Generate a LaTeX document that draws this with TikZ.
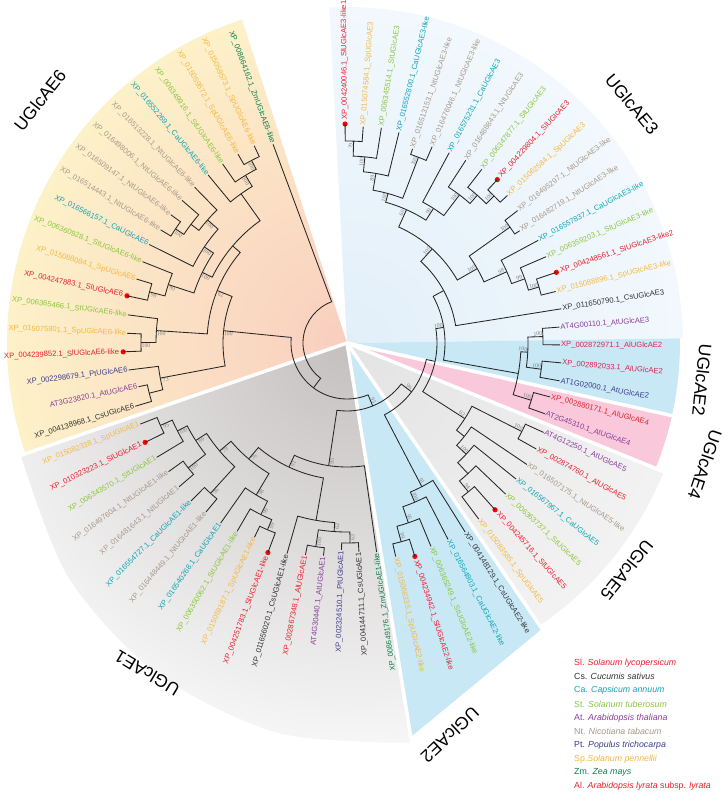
\documentclass[tikz,border=0pt]{standalone}
\usepackage{fontspec}
\setmainfont{Liberation Sans}
\newfontfamily\bsfont{Liberation Serif}
\definecolor{cSl}{HTML}{E8202E}
\definecolor{cCs}{HTML}{333333}
\definecolor{cCa}{HTML}{10A5B5}
\definecolor{cSt}{HTML}{8CC63F}
\definecolor{cAt}{HTML}{8B3D9B}
\definecolor{cNt}{HTML}{A8998A}
\definecolor{cPt}{HTML}{3F3C8C}
\definecolor{cSp}{HTML}{F5B843}
\definecolor{cZm}{HTML}{0E7E4E}
\definecolor{cAl}{HTML}{DC2450}
\definecolor{bgA}{HTML}{E2EFF9}
\definecolor{bgB}{HTML}{F3F9FD}
\definecolor{bgTwo}{HTML}{C8E8F6}
\definecolor{bgFour}{HTML}{F9C8DA}
\definecolor{bgFiveA}{HTML}{E3E3E3}
\definecolor{bgFiveB}{HTML}{F3F3F3}
\definecolor{bgOneA}{HTML}{C4C0BF}
\definecolor{bgOneB}{HTML}{FAFAFA}
\definecolor{bgSixA}{HTML}{F9CEBF}
\definecolor{bgSixB}{HTML}{FDF3C9}
\tikzset{
 br/.style={line width=0.85pt, black!85},
 leaf/.style={font=\fontsize{7.6}{9}\selectfont, inner sep=0pt},
 bsn/.style={font=\bsfont\fontsize{5.8}{6}\selectfont, text=gray, inner sep=0.6pt},
 reddot/.style={fill=red},
 clade/.style={font=\fontsize{17.5}{20}\selectfont, inner sep=0pt},
 leg/.style={font=\fontsize{8.8}{10}\selectfont, anchor=west, inner sep=0pt},
 gapline/.style={white, line width=3.5pt},
}
\newcommand\Lf[5]{%
  \pgfmathsetmacro\lfA{90.5-(#1-1)*4.79}%
  \coordinate (L#1) at (\lfA:#2pt);%
  \expandafter\xdef\csname tAL#1\endcsname{\lfA}%
  \expandafter\xdef\csname tRL#1\endcsname{#2}%
  \ifnum#5=1 \fill[reddot] (L#1) circle (2.6pt);\pgfmathsetmacro\lfR{#2+4}\else\pgfmathsetmacro\lfR{#2+1}\fi
  \ifdim\lfA pt<-80pt
    \node[leaf,text=#3,anchor=east,rotate=\lfA+180] (T#1) at (\lfA:\lfR pt) {#4};%
  \else
    \node[leaf,text=#3,anchor=west,rotate=\lfA] (T#1) at (\lfA:\lfR pt) {#4};%
  \fi}
\newcommand\Ed[2]{%
  \edef\edCA{\csname tA#1\endcsname}\edef\edPR{\csname tR#2\endcsname}\edef\edPA{\csname tA#2\endcsname}%
  \draw[br] (#1) -- (\edCA:\edPR pt) arc[start angle=\edCA, end angle=\edPA, radius=\edPR pt];}
\newcommand\Bs[2]{%
  \if\relax\detokenize{#2}\relax\else
  \edef\bsA{\csname tA#1\endcsname}\edef\bsR{\csname tR#1\endcsname}%
  \pgfmathsetmacro\bsL{\bsR-5}%
  \ifdim\bsA pt<-80pt
    \node[bsn,anchor=north,rotate=\bsA+180] (bs#1) at (\bsA:\bsL pt) {#2};
  \else
    \node[bsn,anchor=south,rotate=\bsA] (bs#1) at (\bsA:\bsL pt) {#2};
  \fi\fi}
\newcommand\Jn[5]{%
  \pgfmathsetmacro\jnA{(\csname tA#2\endcsname+\csname tA#3\endcsname)/2}%
  \coordinate (#1) at (\jnA:#4pt);%
  \expandafter\xdef\csname tA#1\endcsname{\jnA}%
  \expandafter\xdef\csname tR#1\endcsname{#4}%
  \Ed{#2}{#1}\Ed{#3}{#1}\Bs{#1}{#5}}
\newcommand\Sector[6]{% name, start, end, radius, inner, outer
  \begin{scope}
  \clip (0,0) -- (#2:#4pt) arc[start angle=#2,end angle=#3,radius=#4pt] -- cycle;
  \shade[inner color=#5, outer color=#6] (0,0) circle (1.05*#4pt);
  \end{scope}}
\begin{document}
\begin{tikzpicture}
\useasboundingbox (-347pt,-458pt) rectangle (381pt,343pt);
\fill[white] (-347pt,-458pt) rectangle (381pt,343pt);
% sectors
\Sector{s3}{93}{0.8}{336}{bgA}{bgB}
\Sector{s2a}{0.8}{-12.6}{333}{bgTwo}{bgTwo}
\Sector{s4}{-12.6}{-22.1}{333}{bgFour}{bgFour}
\Sector{s5}{-22.1}{-55.7}{342}{bgFiveA}{bgFiveB}
\fill[bgTwo] (0,0) -- (-55.7:346pt) -- (-81.5:402pt) -- cycle;
\begin{scope}
 \clip (0,0) -- plot[smooth] coordinates {(-80.8:405pt) (-100:396pt) (-120:381pt) (-140:364pt) (-161:345pt)} -- cycle;
 \shade[inner color=bgOneA, outer color=bgOneB] (0,0) circle (430pt);
\end{scope}
\Sector{s6}{-161}{-252}{340}{bgSixA}{bgSixB}
\foreach \g in {-12.6,-22.1,-55.7,-80.8,-161}{\draw[gapline] (0,0) -- (\g:440pt);}
% leaves
\Lf{1}{219}{cSl}{XP\_004240046.1\_SlUGlcAE3-like1}{1}
\Lf{2}{217}{cSp}{XP\_015074584.1\_SpUGlcAE3}{0}
\Lf{3}{218}{cSt}{XP\_006345514.1\_StUGlcAE3}{0}
\Lf{4}{217}{cCa}{XP\_016552800.1\_CaUGlcAE3-like}{0}
\Lf{5}{205}{cNt}{XP\_016513153.1\_NtUGlcAE3-like}{0}
\Lf{6}{214}{cNt}{XP\_016476046.1\_NtUGlcAE3-like}{0}
\Lf{7}{216}{cCa}{XP\_016575231.1\_CaUGlcAE3}{0}
\Lf{8}{218}{cNt}{XP\_016488843.1\_NtUGlcAE3}{0}
\Lf{9}{220}{cSt}{XP\_006347877.1\_StUGlcAE3}{0}
\Lf{10}{222}{cSl}{XP\_004229804.1\_SlUGlcAE3}{1}
\Lf{11}{218}{cSp}{XP\_015062584.1\_SpUGlcAE3}{0}
\Lf{12}{216}{cNt}{XP\_016495297.1\_NtUGlcAE3-like}{0}
\Lf{13}{206}{cNt}{XP\_016482719.1\_NtUGlcAE3-like}{0}
\Lf{14}{217}{cCa}{XP\_016557837.1\_CaUGlcAE3-like}{0}
\Lf{15}{217}{cSt}{XP\_006359203.1\_StUGlcAE3-like}{0}
\Lf{16}{221}{cSl}{XP\_004248561.1\_SlUGlcAE3-like2}{1}
\Lf{17}{215}{cSp}{XP\_015088896.1\_SpUGlcAE3-like}{0}
\Lf{18}{217}{cCs}{XP\_011650790.1\_CsUGlcAE3}{0}
\Lf{19}{213}{cAt}{AT4G00110.1\_AtUGlcAE3}{0}
\Lf{20}{213}{cAl}{XP\_002872971.1\_AlUGlcAE2}{0}
\Lf{21}{215}{cAl}{XP\_002892033.1\_AlUGlcAE2}{0}
\Lf{22}{216}{cPt}{AT1G02000.1\_AtUGlcAE2}{0}
\Lf{23}{210}{cSl}{XP\_002880171.1\_AlUGlcAE4}{0}
\Lf{24}{210}{cAt}{AT2G45310.1\_AtUGlcAE4}{0}
\Lf{25}{216}{cAt}{AT4G12250.1\_AtUGlcAE5}{0}
\Lf{26}{217}{cSl}{XP\_002874760.1\_AlUGlcAE5}{0}
\Lf{27}{217}{cNt}{XP\_016507175.1\_NtUGlcAE5-like}{0}
\Lf{28}{217}{cCa}{XP\_016567967.1\_CaUGlcAE5}{0}
\Lf{29}{219}{cSt}{XP\_006363737.1\_StUGlcAE5}{0}
\Lf{30}{223}{cSl}{XP\_004245716.1\_SlUGlcAE5}{1}
\Lf{31}{220}{cSp}{XP\_015083585.1\_SpUGlcAE5}{0}
\Lf{32}{223}{cCs}{XP\_004148129.1\_CsUGlcAE2-like}{0}
\Lf{33}{221}{cCa}{XP\_016564803.1\_CaUGlcAE2-like}{0}
\Lf{34}{220}{cSt}{XP\_006365249.1\_StUGlcAE2-like}{0}
\Lf{35}{224}{cSl}{XP\_004234942.1\_SlUGlcAE2-like}{1}
\Lf{36}{219}{cSp}{XP\_015068335.1\_SpUGlcAE2-like}{0}
\Lf{37}{211}{cZm}{XP\_008649176.1\_ZmUGlcAE1-like}{0}
\Lf{38}{209}{cCs}{XP\_004144711.1\_CsUGlcAE1}{0}
\Lf{39}{207}{cPt}{XP\_002324510.1\_PtUGlcAE1}{0}
\Lf{40}{214}{cAt}{AT4G30440.1\_AtUGlcAE1}{0}
\Lf{41}{216}{cSl}{XP\_002867348.1\_AlUGlcAE1}{0}
\Lf{42}{219}{cCs}{XP\_011656020.1\_CsUGlcAE1-like}{0}
\Lf{43}{224}{cSl}{XP\_004251783.1\_SlUGlcAE1-like}{1}
\Lf{44}{215}{cSp}{XP\_015059187.1\_SpUGlcAE1-like}{0}
\Lf{45}{218}{cSt}{XP\_006350062.1\_StUGlcAE1-like}{0}
\Lf{46}{220}{cCa}{XP\_016540268.1\_CaUGlcAE1}{0}
\Lf{47}{220}{cNt}{XP\_016448449.1\_NtUGlcAE1-like}{0}
\Lf{48}{222}{cCa}{XP\_016554727.1\_CaUGlcAE1-like}{0}
\Lf{49}{221}{cNt}{XP\_016481643.1\_NtUGlcAE1}{0}
\Lf{50}{220}{cNt}{XP\_016497604.1\_NtUGlcAE1-like}{0}
\Lf{51}{222}{cSt}{XP\_006343570.1\_StUGlcAE1}{0}
\Lf{52}{225}{cSl}{XP\_010323223.1\_SlUGlcAE1}{1}
\Lf{53}{222}{cSp}{XP\_015082338.1\_SpUGlcAE1}{0}
\Lf{54}{221}{cCs}{XP\_004138968.1\_CsUGlcAE6}{0}
\Lf{55}{213}{cAt}{AT3G23820.1\_AtUGlcAE6}{0}
\Lf{56}{220}{cPt}{XP\_002298679.1\_PtUGlcAE6}{0}
\Lf{57}{224}{cSl}{XP\_004239852.1\_SlUGlcAE6-like}{1}
\Lf{58}{220}{cSp}{XP\_015075801.1\_SpUGlcAE6-like}{0}
\Lf{59}{221}{cSt}{XP\_006365466.1\_StUGlcAE6-like}{0}
\Lf{60}{225}{cSl}{XP\_004247883.1\_SlUGlcAE6}{1}
\Lf{61}{220}{cSp}{XP\_015088084.1\_SpUGlcAE6}{0}
\Lf{62}{220}{cSt}{XP\_006360928.1\_StUGlcAE6-like}{0}
\Lf{63}{221}{cCa}{XP\_016566157.1\_CaUGlcAE6}{0}
\Lf{64}{218}{cNt}{XP\_016514443.1\_NtUGlcAE6-like}{0}
\Lf{65}{218}{cNt}{XP\_016509147.1\_NtUGlcAE6-like}{0}
\Lf{66}{218}{cNt}{XP\_016498006.1\_NtUGlcAE6-like}{0}
\Lf{67}{218}{cNt}{XP\_016513228.1\_NtUGlcAE6-like}{0}
\Lf{68}{218}{cCa}{XP\_016552269.1\_CaUGlcAE6-like}{0}
\Lf{69}{218}{cSt}{XP\_006349916.1\_StUGlcAE6-like}{0}
\Lf{70}{218}{cSp}{XP\_015059572.1\_SpUGlcAE6-like}{0}
\Lf{71}{218}{cSp}{XP\_015059573.1\_SpUGlcAE6-like}{0}
\Lf{72}{212}{cZm}{XP\_008664162.1\_ZmUGlcAE6-like}{0}
% AE3
\Jn{a1}{L1}{L2}{202}{79}
\Jn{a2}{a1}{L3}{187}{100}
\Jn{a3}{a2}{L4}{172}{89}
\Jn{a4}{L5}{L6}{199}{100}
\Jn{a5}{a3}{a4}{155}{100}
\Jn{a6}{L10}{L11}{208}{100}
\Jn{a7}{L9}{a6}{197}{100}
\Jn{a8}{L8}{a7}{186}{100}
\Jn{a9}{L7}{a8}{160}{90}
\Jn{a10}{a5}{a9}{146}{60}
\Jn{a11}{L12}{L13}{200}{100}
\Jn{a12}{L16}{L17}{200}{100}
\Jn{a13}{L15}{a12}{189}{99}
\Jn{a14}{L14}{a13}{175}{98}
\Jn{a15}{a11}{a14}{150}{100}
\Jn{a16}{a10}{a15}{127}{100}
\Jn{a17}{a16}{L18}{110}{}
% AE2 / AE4
\Jn{b1}{L19}{L20}{196}{100}
\Jn{b2}{L21}{L22}{196}{100}
\Jn{b3}{b1}{b2}{181}{100}
\Jn{b4}{L23}{L24}{193}{100}
\Jn{b5}{b3}{b4}{174}{}
\Jn{c1}{a17}{b5}{98}{100}
% AE5
\Jn{e1}{L25}{L26}{196}{100}
\Jn{e2}{L30}{L31}{192}{94}
\Jn{e3}{L29}{e2}{178}{}
\Jn{e4}{L28}{e3}{163}{100}
\Jn{e5}{L27}{e4}{150}{}
\Jn{e6}{e1}{e5}{140}{62}
\Jn{d2}{c1}{e6}{90}{}
% AE2 lower
\Jn{f1}{L35}{L36}{206}{99}
\Jn{f2}{L34}{f1}{190}{95}
\Jn{f3}{L33}{f2}{173}{100}
\Jn{f4}{L32}{f3}{162}{91}
\Jn{X}{d2}{f4}{81}{96}
% AE1
\Jn{g1}{L38}{L39}{200}{63}
\Jn{g2}{L40}{L41}{206}{100}
\Jn{g3}{g1}{g2}{189}{62}
\Jn{g4}{g3}{L42}{180}{}
\Jn{s1}{L52}{L53}{204}{95}
\Jn{s2}{L51}{s1}{191}{100}
\Jn{s3}{L49}{L50}{202}{100}
\Jn{s4}{s3}{s2}{180}{86}
\Jn{s6}{L47}{L48}{203}{96}
\Jn{s7}{s6}{s4}{167}{79}
\Jn{s8}{L43}{L44}{203}{99}
\Jn{s9}{s8}{L45}{192}{99}
\Jn{s10}{s9}{L46}{177}{98}
\Jn{s11}{s10}{s7}{152}{76}
\Jn{g5}{g4}{s11}{137}{91}
\Jn{g6}{L37}{g5}{124}{95}
\Jn{Y}{X}{g6}{68}{95}
% AE6
\Jn{h1}{L54}{L55}{204}{}
\Jn{h2}{L56}{h1}{190}{73}
\Jn{h3}{L57}{L58}{206}{100}
\Jn{h4}{L59}{h3}{191}{100}
\Jn{h6}{L60}{L61}{204}{99}
\Jn{h7}{L62}{h6}{188}{99}
\Jn{h8}{L64}{L65}{206}{100}
\Jn{h9}{h8}{L66}{196}{}
\Jn{h10}{h9}{L67}{186}{100}
\Jn{h11}{L63}{h10}{172}{100}
\Jn{h12}{h7}{h11}{161}{100}
\Jn{h13}{L70}{L71}{206}{100}
\Jn{h14}{L69}{h13}{196}{100}
\Jn{h15}{L68}{h14}{183}{}
\Jn{h16}{h12}{h15}{150}{}
\Jn{h5}{h4}{h16}{140}{62}
\Jn{h17}{h2}{h5}{124}{100}
% root
\Jn{rest}{h17}{Y}{56}{}
\Jn{rt}{L72}{rest}{44}{}
% clade labels
\node[clade,rotate=-50] (k3) at (285pt,239pt) {UGlcAE3};
\node[clade,rotate=-96] (k2a) at (355pt,-37pt) {UGlcAE2};
\node[clade,rotate=-109] (k4) at (358pt,-122pt) {UGlcAE4};
\node[clade,rotate=-129] (k5) at (280pt,-227pt) {UGlcAE5};
\node[clade,rotate=-137] (k2b) at (103pt,-392pt) {UGlcAE2};
\node[clade,rotate=149] (k1) at (-200pt,-330pt) {UGlcAE1};
\node[clade,rotate=51.6] (k6) at (-307pt,243pt) {UGlcAE6};
% legend
\node[leg,text=cSl] (g01) at (227pt,-320pt) {Sl. \textit{Solanum lycopersicum}};
\node[leg,text=cCs] (g02) at (227pt,-333.7pt) {Cs. \textit{Cucumis sativus}};
\node[leg,text=cCa] (g03) at (227pt,-347.4pt) {Ca. \textit{Capsicum annuum}};
\node[leg,text=cSt] (g04) at (227pt,-361.1pt) {St. \textit{Solanum tuberosum}};
\node[leg,text=cAt] (g05) at (227pt,-374.8pt) {At. \textit{Arabidopsis thaliana}};
\node[leg,text=cNt] (g06) at (227pt,-388.5pt) {Nt. \textit{Nicotiana tabacum}};
\node[leg,text=cPt] (g07) at (227pt,-402.2pt) {Pt. \textit{Populus trichocarpa}};
\node[leg,text=cSp] (g08) at (227pt,-415.9pt) {Sp.\textit{Solanum pennellii}};
\node[leg,text=cZm] (g09) at (227pt,-429.6pt) {Zm. \textit{Zea mays}};
\node[leg,text=cSl] (g10) at (227pt,-443.3pt) {Al. \textit{Arabidopsis lyrata} subsp. \textit{lyrata}};
\end{tikzpicture}
\end{document}
